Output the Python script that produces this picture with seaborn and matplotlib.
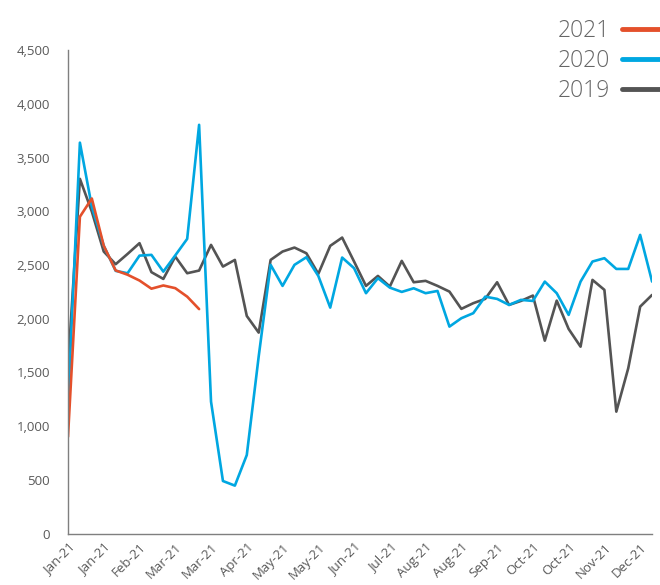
import pandas as pd
import numpy as np
import seaborn as sns
import matplotlib.pyplot as plt

# weekly values
y2021 = [900, 2950, 3120, 2680, 2450, 2410, 2356, 2280, 2310, 2285, 2206, 2090]

y2020 = [1200, 3640, 3045, 2680, 2446, 2424, 2588, 2595, 2439, 2590,
         2744, 3806, 1228, 489, 446, 731, 1650, 2502, 2306, 2502,
         2573, 2399, 2104, 2570, 2471, 2238, 2378, 2290, 2250, 2284,
         2238, 2259, 1927, 2005, 2052, 2206, 2185, 2129, 2176, 2166,
         2346, 2238, 2036, 2346, 2533, 2564, 2464, 2464, 2781, 2346]

y2019 = [1551, 3303, 2998, 2626, 2508, 2604, 2704, 2434, 2371, 2579,
         2424, 2449, 2688, 2486, 2548, 2026, 1871, 2548, 2626, 2663,
         2610, 2418, 2679, 2756, 2533, 2306, 2399, 2300, 2539, 2340,
         2353, 2306, 2253, 2092, 2145, 2185, 2340, 2129, 2166, 2216,
         1796, 2169, 1905, 1740, 2362, 2269, 1135, 1539, 2113, 2222]

tick_labels = ['Jan-21', 'Jan-21', 'Feb-21', 'Mar-21', 'Mar-21', 'Apr-21',
               'May-21', 'May-21', 'Jun-21', 'Jul-21', 'Aug-21', 'Aug-21',
               'Sep-21', 'Oct-21', 'Oct-21', 'Nov-21', 'Dec-21']

years = ['2021', '2020', '2019']
colors = {'2021': '#E4502B', '2020': '#00A7E1', '2019': '#545454'}

frames = []
for year, vals in zip(years, [y2021, y2020, y2019]):
    frames.append(pd.DataFrame({'week': np.arange(len(vals)), 'value': vals, 'year': year}))
df = pd.concat(frames, ignore_index=True)

sns.set_style('white')
plt.rcParams['font.family'] = ['Open Sans', 'DejaVu Sans']

fig = plt.figure(figsize=(6.6, 5.85), dpi=100)
ax = fig.add_axes([0.103, 0.088, 0.885, 0.826])

# 2019 drawn first, 2021 last (on top)
sns.lineplot(data=df, x='week', y='value', hue='year', hue_order=years[::-1],
             palette=colors, linewidth=1.9, ax=ax, legend=False)

ax.set_xlim(0, 49)
ax.set_ylim(0, 4500)
ax.set_yticks(np.arange(0, 4501, 500))
ax.set_yticklabels([f'{v:,}' for v in range(0, 4501, 500)])
ax.set_xticks(np.arange(0, 50, 3))
ax.set_xticklabels(tick_labels, rotation=45, ha='right', rotation_mode='anchor')
ax.set_xlabel('')
ax.set_ylabel('')

for side in ['top', 'right']:
    ax.spines[side].set_visible(False)
for side in ['left', 'bottom']:
    ax.spines[side].set_color('#7f7f7f')
    ax.spines[side].set_linewidth(1.0)
ax.tick_params(axis='y', length=0, pad=13, labelsize=9.5, labelcolor='#595959')
ax.tick_params(axis='x', length=0, pad=5, labelsize=9.5, labelcolor='#595959')

handles = [plt.Line2D([], [], color=colors[y], linewidth=3.5) for y in years]
fig.legend(handles, years, loc='upper right', bbox_to_anchor=(1.039, 1.002),
           frameon=False, markerfirst=False, labelcolor='#666666',
           prop={'family': ['Open Sans', 'DejaVu Sans'], 'size': 16.5, 'weight': 'light'},
           handlelength=1.9, handletextpad=0.5, labelspacing=0.25)

plt.savefig('out.png', dpi=100)
